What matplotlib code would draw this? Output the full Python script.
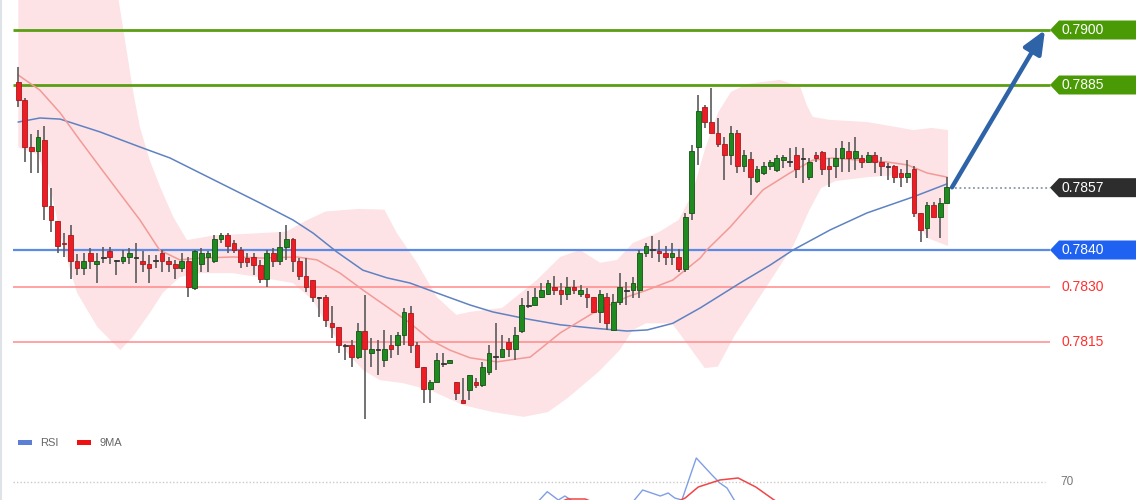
import matplotlib
matplotlib.use("Agg")
import matplotlib.pyplot as plt
from matplotlib.patches import Polygon, Rectangle
import numpy as np

# ---------------- data ----------------
opens = [.78859, .78809, .78680, .78671, .78700, .78520, .78480, .78420, .78441, .78370,
         .78350, .78391, .78361, .78380, .78398, .78373, .78370, .78380, .78380, .78370,
         .78362, .78370, .78391, .78370, .78361, .78350, .78370, .78296, .78362, .78380,
         .78370, .78430, .78441, .78420, .78400, .78377, .78380, .78359, .78320, .78391,
         .78371, .78409, .78429, .78371, .78329, .78318, .78271, .78271, .78200, .78189,
         .78141, .78141, .78109, .78180, .78120, .78129, .78100, .78141, .78141, .78168,
         .78229, .78141, .78082, .78020, .78041, .78091, .78091, .78041, .77991, .78018,
         .78041, .78032, .78068, .78111, .78109, .78150, .78129, .78180, .78250, .78250,
         .78271, .78280, .78300, .78291, .78280, .78300, .78280, .78280, .78271, .78232,
         .78271, .78182, .78259, .78291, .78291, .78291, .78391, .78400, .78398, .78391,
         .78382, .78380, .78347, .78500, .78682, .78789, .78750, .78718, .78689, .78659,
         .78720, .78629, .78649, .78589, .78609, .78629, .78618, .78645, .78641, .78659,
         .78650, .78600, .78659, .78668, .78629, .78629, .78650, .78671, .78650, .78650,
         .78641, .78659, .78641, .78629, .78629, .78611, .78600, .78620, .78500, .78459,
         .78523, .78491, .78529]
highs = [.78900, .78815, .78716, .78727, .78739, .78569, .78480, .78447, .78468, .78389,
         .78391, .78405, .78391, .78407, .78409, .78373, .78400, .78405, .78420, .78398,
         .78386, .78386, .78400, .78382, .78373, .78391, .78382, .78400, .78405, .78398,
         .78441, .78447, .78447, .78427, .78409, .78391, .78391, .78373, .78400, .78405,
         .78450, .78468, .78432, .78377, .78377, .78318, .78272, .78277, .78247, .78189,
         .78144, .78155, .78200, .78277, .78159, .78155, .78182, .78168, .78177, .78241,
         .78247, .78150, .78082, .78045, .78120, .78118, .78100, .78041, .78051, .78059,
         .78051, .78095, .78141, .78200, .78168, .78159, .78189, .78268, .78289, .78296,
         .78309, .78318, .78329, .78309, .78327, .78318, .78305, .78296, .78273, .78291,
         .78284, .78280, .78336, .78314, .78326, .78400, .78418, .78438, .78427, .78411,
         .78418, .78402, .78501, .78686, .78823, .78795, .78841, .78759, .78709, .78738,
         .78727, .78673, .78668, .78629, .78641, .78645, .78659, .78659, .78677, .78682,
         .78677, .78650, .78668, .78671, .78650, .78677, .78698, .78695, .78707, .78659,
         .78668, .78668, .78654, .78636, .78632, .78620, .78645, .78629, .78500, .78532,
         .78532, .78541, .78600]
lows = [.78791, .78641, .78611, .78611, .78482, .78450, .78391, .78382, .78320, .78332,
        .78332, .78347, .78311, .78364, .78362, .78332, .78362, .78362, .78311, .78341,
        .78311, .78350, .78341, .78341, .78320, .78341, .78271, .78291, .78341, .78341,
        .78364, .78420, .78391, .78391, .78350, .78355, .78332, .78309, .78300, .78355,
        .78359, .78373, .78341, .78318, .78286, .78259, .78218, .78189, .78159, .78120,
        .78100, .78082, .78102, .77939, .78082, .78059, .78082, .78105, .78114, .78141,
        .78120, .78077, .77982, .77982, .78041, .78082, .78091, .77991, .77982, .77991,
        .78023, .78027, .78059, .78073, .78109, .78109, .78100, .78175, .78241, .78250,
        .78268, .78277, .78277, .78250, .78264, .78280, .78273, .78241, .78227, .78200,
        .78182, .78182, .78250, .78250, .78268, .78268, .78382, .78377, .78368, .78359,
        .78359, .78341, .78341, .78482, .78632, .78732, .78718, .78682, .78591, .78632,
        .78609, .78614, .78550, .78582, .78605, .78618, .78614, .78623, .78627, .78596,
        .78582, .78591, .78641, .78605, .78573, .78596, .78614, .78614, .78618, .78623,
        .78636, .78609, .78602, .78591, .78582, .78571, .78582, .78491, .78423, .78432,
        .78489, .78432, .78527]
closes = [.78809, .78680, .78671, .78709, .78520, .78482, .78411, .78417, .78370, .78350,
          .78370, .78370, .78370, .78381, .78380, .78372, .78380, .78391, .78381, .78362,
          .78350, .78371, .78370, .78361, .78350, .78370, .78300, .78398, .78391, .78391,
          .78430, .78441, .78411, .78400, .78368, .78368, .78359, .78320, .78391, .78371,
          .78409, .78429, .78371, .78329, .78300, .78271, .78270, .78209, .78189, .78141,
          .78140, .78109, .78180, .78129, .78129, .78128, .78129, .78129, .78168, .78232,
          .78141, .78082, .78020, .78041, .78100, .78090, .78100, .78011, .77982, .78059,
          .78032, .78082, .78120, .78110, .78129, .78129, .78168, .78250, .78249, .78271,
          .78291, .78311, .78291, .78280, .78300, .78291, .78291, .78271, .78232, .78280,
          .78200, .78259, .78300, .78290, .78311, .78391, .78411, .78401, .78391, .78382,
          .78391, .78347, .78491, .78671, .78780, .78750, .78718, .78689, .78659, .78718,
          .78629, .78659, .78600, .78620, .78629, .78641, .78650, .78653, .78640, .78620,
          .78649, .78641, .78650, .78620, .78620, .78650, .78677, .78650, .78671, .78641,
          .78659, .78641, .78629, .78628, .78600, .78600, .78611, .78500, .78455, .78523,
          .78491, .78529, .78571]

# Bollinger band envelope (candle index, price)
upper_idx = [0, 8, 15, 16.8, 17.6, 18.6, 20.1, 21.7, 23.7, 25.8, 30, 36, 41, 44, 47, 52, 56,
             57.9, 61, 64, 67, 69, 74, 79.3, 82.9, 85.9, 89, 91.6, 94, 98, 101, 103, 105,
             107, 109, 111.5, 116.5, 119.6, 120.6, 121.5, 124, 129.8, 134.4, 136.9, 139.7, 142.2]
upper_val = [.7915, .7917, .7912, .78918, .78828, .78735, .78645, .78572, .78490, .78427,
             .78440, .78445, .78450, .78480, .78505, .78512, .78510, .78446, .78365, .78272,
             .78223, .78231, .78242, .78318, .78381, .78400, .78365, .78373, .78419, .78449,
             .78482, .78550, .78673, .78774, .78831, .78853, .78864, .78845, .78795, .78763,
             .78755, .78749, .78735, .78727, .78733, .78727]
lower_idx = [0, 3, 5, 7, 9, 12.1, 15.6, 17.5, 20.1, 22.1, 24.7, 27.8, 32.8, 37.4, 42, 45,
             47.7, 50.3, 52.7, 55.3, 58.8, 63, 68, 72.6, 77.3, 81, 84, 88.7, 92, 94, 96, 100,
             103, 105, 107, 109.6, 112.6, 115.6, 118.6, 121, 122.8, 125, 130, 135, 136.5, 137,
             139, 142.2]
lower_val = [.78680, .78660, .78560, .78400, .78283, .78190, .78127, .78163, .78228, .78283,
             .78326, .78337, .78337, .78324, .78310, .78264, .78182, .78119, .78073, .78045,
             .78037, .78018, .77977, .77958, .77945, .77958, .77996, .78067, .78127, .78182,
             .78200, .78200, .78127, .78078, .78082, .78168, .78250, .78332, .78414, .78509,
             .78569, .78588, .78599, .78605, .78596, .78495, .78433, .78411]

# moving averages (candle index, price)
ma_fast_idx = [0, 3.3, 6.4, 9.4, 12.5, 15.5, 18.6, 21.6, 24.7, 27.8, 32.8, 37.4, 42.6, 45.7,
               49.2, 52.7, 56.4, 59.9, 63, 66, 69.1, 73.2, 78.3, 82.9, 87.9, 93.1, 96.2, 100.1,
               104.3, 105.3, 108.9, 113.9, 118, 121.5, 124.6, 128.7, 132.9, 136, 139, 142]
ma_fast_val = [.78877, .78836, .78774, .78700, .78626, .78555, .78482, .78400, .78373, .78378,
               .78381, .78378, .78381, .78373, .78337, .78291, .78245, .78201, .78155, .78127,
               .78106, .78095, .78108, .78174, .78228, .78272, .78291, .78318, .78378, .78400,
               .78463, .78564, .78610, .78645, .78651, .78645, .78640, .78632, .78610, .78599]
ma_slow_idx = [0, 3.3, 6.4, 12.5, 18.6, 23.2, 27.8, 32.4, 37, 42, 45.1, 48.7, 52.7, 56.4, 59.9,
               64, 69.1, 72.6, 77.8, 82.9, 87.9, 93.1, 96.2, 100.1, 104.3, 110.4, 115, 118.5,
               124.2, 129.8, 136.9, 142]
ma_slow_val = [.78749, .78760, .78757, .78722, .78681, .78651, .78610, .78569, .78528, .78482,
               .78446, .78395, .78345, .78324, .78310, .78283, .78250, .78231, .78212, .78196,
               .78187, .78179, .78182, .78200, .78242, .78310, .78359, .78400, .78455, .78501,
               .78545, .78580]

# RSI panel
rsi_idx = [76, 79, 80.9, 82.6, 83.6, 85, 88, 91, 93.6, 95.5, 98.2, 99.4, 100.4, 101.5, 103.7,
           106.1, 107.3, 108.4, 109.5, 111.2, 114]
rsi_val = [40, 46.7, 60, 51.7, 55.7, 49.7, 42, 44, 46.7, 61.7, 55.7, 58.7, 53.7, 51.7, 93.7,
           76.7, 68.7, 63.7, 51.7, 43.7, 40]
rsi_ma_idx = [80, 82.9, 84, 86.7, 88.2, 92, 97, 99.7, 102, 104, 107.3, 110.1, 112.8, 115.6,
              117.3, 120]
rsi_ma_val = [45, 49.7, 52.7, 52.7, 48.7, 44, 44, 46.7, 53.7, 64.7, 71.7, 73.7, 64.7, 51.7,
              45.7, 42]
rsi_level = 70

# levels and labels
levels_green = [0.7900, 0.7885]
level_blue = 0.7840
levels_red = [0.7830, 0.7815]
last_price = 0.7857
level_labels = {0.7900: "0.7900", 0.7885: "0.7885", 0.7857: "0.7857",
                0.7840: "0.7840", 0.7830: "0.7830", 0.7815: "0.7815"}
target = 0.7900

# ---------------- layout helpers (pixels -> data) ----------------
W, H = 1140, 500
STEP = 6.538      # px per candle
X_FIRST = 18.3    # px of first candle centre
PX_PER_PRICE = 36667.0
Y_REF_PX, Y_REF_PRICE = 30.0, 0.7900


def px_x(p):
    return (p - X_FIRST) / STEP


def px_y(p):
    return Y_REF_PRICE - (p - Y_REF_PX) / PX_PER_PRICE


fig = plt.figure(figsize=(W / 100, H / 100), dpi=100, facecolor="white")
ax = fig.add_axes([0, 0, 1, 1])
ax.set_xlim(px_x(0), px_x(W))
ax.set_ylim(px_y(H), px_y(0))
ax.axis("off")

idx = np.arange(len(closes))
o = np.array(opens); c = np.array(closes); h = np.array(highs); l = np.array(lows)

# Bollinger fill
poly_x = list(upper_idx) + list(lower_idx[::-1])
poly_y = list(upper_val) + list(lower_val[::-1])
ax.fill(poly_x, poly_y, color="#fde2e6", lw=0, zorder=1)

# level lines
x_start, x_end = px_x(13), px_x(1050)
for lv in levels_green:
    ax.hlines(lv, x_start, x_end, color="#5a9e12", lw=2.0, zorder=2)
ax.hlines(level_blue, x_start, x_end, color="#5b8be6", lw=1.6, zorder=2)
for lv in levels_red:
    ax.hlines(lv, x_start, x_end, color="#ff8a8a", lw=1.1, zorder=2)
ax.hlines(last_price, px_x(955), x_end, color="#8a96a8", lw=1.3, linestyles=(0, (1, 1.5)), zorder=2)

# moving averages
ax.plot(ma_slow_idx, ma_slow_val, color="#5f82c2", lw=1.1, zorder=3)
ax.plot(ma_fast_idx, ma_fast_val, color="#f29a96", lw=1.1, zorder=3)

# candles
ax.vlines(idx, l, h, color="#5a5a5a", lw=1.2, zorder=4)
bw = 0.72
min_h = 1.0 / PX_PER_PRICE
for i in idx:
    body = abs(c[i] - o[i])
    bottom = min(c[i], o[i])
    if body < 0.000025:
        ax.add_patch(Rectangle((i - bw / 2, (c[i] + o[i]) / 2 - min_h / 2), bw, min_h,
                               facecolor="#333333", edgecolor="#333333", lw=0.6, zorder=5))
        continue
    if c[i] >= o[i]:
        fc, ec = "#1f8a1f", "#145214"
    else:
        fc, ec = "#ee1c24", "#a51a1a"
    ax.add_patch(Rectangle((i - bw / 2, bottom), bw, body, facecolor=fc, edgecolor=ec,
                           lw=0.6, zorder=5))

# arrow to target
ax.annotate("", xy=(px_x(1045), target), xytext=(px_x(952), closes[-1]),
            arrowprops=dict(arrowstyle="-|>,head_length=1.4,head_width=0.6",
                            color="#2e63a8", lw=3.2, shrinkA=0, shrinkB=0,
                            mutation_scale=10), zorder=6)

# price tags
half = 9.5 / PX_PER_PRICE
tip, body_l, body_r = px_x(1050), px_x(1059), px_x(1136)
tag_colors = {0.7900: "#4a9a06", 0.7885: "#4a9a06", 0.7857: "#2d2d2d", 0.7840: "#1f62f2"}
for lv, col in tag_colors.items():
    pts = [(tip, lv), (body_l, lv + half), (body_r, lv + half), (body_r, lv - half),
           (body_l, lv - half)]
    ax.add_patch(Polygon(pts, closed=True, facecolor=col, edgecolor=col, lw=0, zorder=7))
    ax.text(px_x(1061), lv, level_labels[lv], color="white", fontsize=10,
            family="Liberation Sans", va="center", ha="left", zorder=8)
for lv in levels_red:
    ax.text(px_x(1061), lv, level_labels[lv], color="#ff3030", fontsize=10,
            family="Liberation Sans", va="center", ha="left", zorder=8)

# left border
ax.plot([px_x(1.5), px_x(1.5)], [px_y(0), px_y(H)], color="#dde3e6", lw=1.5, zorder=1)

# ---------------- RSI panel ----------------
ax2 = fig.add_axes([0, 0, 1, 1], facecolor="none")
ax2.set_xlim(px_x(0), px_x(W))
ax2.set_ylim(rsi_level - (H - 481.7), rsi_level + 481.7)
ax2.axis("off")
ax2.hlines(rsi_level, px_x(13), px_x(1045), color="#c9c9c9", lw=1.0, linestyles=(0, (1, 1.5)))
ax2.plot(rsi_idx, rsi_val, color="#7f9ee6", lw=1.0)
ax2.plot(rsi_ma_idx, rsi_ma_val, color="#f24545", lw=1.1)
ax2.text(px_x(1060), rsi_level, "70", color="#777777", fontsize=8.5, family="Liberation Sans",
         va="center", ha="left")

# legend
fig.patches.append(Rectangle((18 / W, 1 - 445 / H), 14 / W, 5 / H, transform=fig.transFigure,
                             facecolor="#5b7fd6", edgecolor="none"))
fig.text(40 / W, 1 - 442.5 / H, "RSI", color="#666666", fontsize=8, family="Liberation Sans",
         va="center")
fig.patches.append(Rectangle((77 / W, 1 - 445 / H), 14 / W, 5 / H, transform=fig.transFigure,
                             facecolor="#ee1111", edgecolor="none"))
fig.text(100 / W, 1 - 442.5 / H, "9MA", color="#666666", fontsize=8, family="Liberation Sans",
         va="center")

fig.savefig("out.png", dpi=100, facecolor="white")
